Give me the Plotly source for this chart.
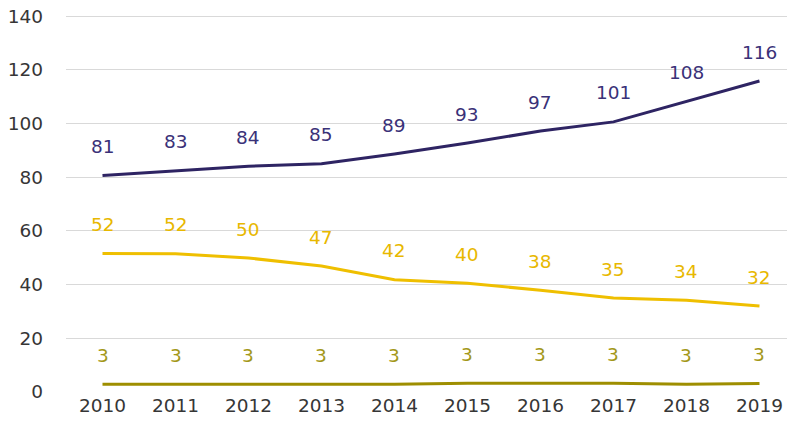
import plotly.graph_objects as go

years = ["2010", "2011", "2012", "2013", "2014", "2015", "2016", "2017", "2018", "2019"]
purple_vals = [80.6, 82.4, 84.1, 85.0, 88.6, 92.7, 97.2, 100.6, 108.2, 115.8]
purple_labels = ["81", "83", "84", "85", "89", "93", "97", "101", "108", "116"]
yellow_vals = [51.6, 51.5, 49.9, 46.9, 41.8, 40.5, 37.9, 35.0, 34.2, 32.0]
yellow_labels = ["52", "52", "50", "47", "42", "40", "38", "35", "34", "32"]
olive_vals = [2.9, 2.9, 2.9, 2.9, 2.9, 3.3, 3.3, 3.3, 2.9, 3.2]
olive_labels = ["3", "3", "3", "3", "3", "3", "3", "3", "3", "3"]
y_ticks = [0, 20, 40, 60, 80, 100, 120, 140]

series = [
    (purple_vals, purple_labels, "#2E2463", "#3A3178"),
    (yellow_vals, yellow_labels, "#EFBF00", "#E8B800"),
    (olive_vals, olive_labels, "#9E8E00", "#A39819"),
]

FS = 18.5
xs = list(range(len(years)))
fig = go.Figure()
annotations = []
for vals, labels, lc, tc in series:
    fig.add_trace(go.Scatter(x=xs, y=vals, mode="lines",
                             line=dict(color=lc, width=3), showlegend=False,
                             hoverinfo="skip"))
    for x, v, t in zip(xs, vals, labels):
        annotations.append(dict(x=x, y=v, text=t, showarrow=False,
                                yshift=29, xanchor="center", yanchor="middle",
                                font=dict(family="DejaVu Sans", size=FS, color=tc)))

fig.update_layout(
    width=787, height=432,
    margin=dict(l=66, r=0, t=15, b=40),
    paper_bgcolor="white", plot_bgcolor="white",
    font=dict(family="DejaVu Sans", size=FS, color="#363636"),
    annotations=annotations,
    xaxis=dict(range=[-0.5, 9.377], tickvals=xs, ticktext=years,
               showgrid=False, zeroline=False, showline=False, ticks="",
               tickfont=dict(size=FS, color="#363636")),
    yaxis=dict(range=[0, 140.4], tickvals=y_ticks, showgrid=True,
               gridcolor="#D9D9D9", gridwidth=1, zeroline=False,
               showline=False, ticks="", ticklabelstandoff=22,
               ticklabeloverflow="allow",
               tickfont=dict(size=FS, color="#363636")),
)
fig.write_html("out.html", config={"displayModeBar": False},
               post_script="document.body.style.margin='0';")
